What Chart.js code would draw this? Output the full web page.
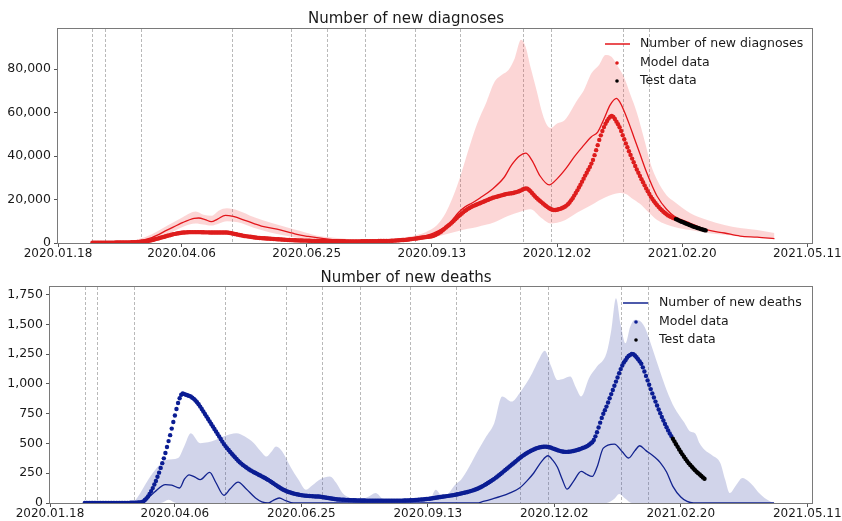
<!DOCTYPE html>
<html>
<head>
<meta charset="utf-8">
<script src="https://cdn.jsdelivr.net/npm/chart.js@4.4.1/dist/chart.umd.min.js"></script>
<style>
  html, body { margin: 0; padding: 0; background: #fff; }
  #wrap { position: relative; width: 842px; height: 521px; }
  canvas { position: absolute; left: 0; }
  #diag { top: 0; }
  #death { top: 262px; }
</style>
</head>
<body>
<div id="wrap">
  <canvas id="diag" width="842" height="262"></canvas>
  <canvas id="death" width="842" height="259"></canvas>
</div>
<script>
// x is the day number counted from 2020.01.18
const dayMax = 482;
const tickDays = [0, 79, 159, 239, 319, 399, 479];
const tickLabels = ["2020.01.18", "2020.04.06", "2020.06.25", "2020.09.13", "2020.12.02", "2021.02.20", "2021.05.11"];
const eventDays = [22, 30, 53, 111, 149, 172, 196, 228, 257, 297, 315, 361, 378];

// ---- new diagnoses ----
const diagYTicks = [0, 20000, 40000, 60000, 80000];
const diagModelStart = 22;
const diagModel = [
  100,100,100,100,100,100,100,100,
  100,100,100,150,150,150,150,200,200,200,
  200,200,250,250,300,300,300,350,350,400,
  400,450,500,550,600,700,800,900,1000,1150,
  1300,1500,1700,1900,2100,2300,2500,2700,2900,3100,
  3300,3500,3700,3900,4100,4200,4400,4500,4600,4700,
  4800,4850,4900,4950,5000,5000,5000,5000,5000,5000,
  5000,5000,4950,4950,4900,4900,4900,4850,4850,4800,
  4800,4800,4800,4800,4800,4800,4800,4800,4800,4700,
  4600,4450,4300,4150,4000,3850,3700,3550,3400,3250,
  3150,3050,2950,2850,2750,2650,2550,2450,2350,2300,
  2250,2200,2150,2100,2050,2000,1950,1900,1850,1800,
  1750,1700,1650,1600,1550,1500,1450,1400,1350,1300,
  1300,1250,1250,1200,1200,1150,1150,1100,1100,1100,
  1050,1050,1000,1000,1000,950,950,950,900,900,
  900,900,850,850,850,850,800,800,800,800,
  800,800,800,800,750,750,750,750,750,750,
  750,750,750,750,800,800,800,800,800,800,
  800,850,850,850,850,900,900,900,950,950,
  950,1000,1000,1050,1050,1100,1150,1200,1250,1300,
  1350,1400,1450,1500,1600,1700,1800,1900,2000,2100,
  2200,2300,2400,2500,2600,2700,2800,2900,3000,3100,
  3300,3600,4000,4400,4800,5300,5900,6500,7100,7700,
  8300,8900,9500,10200,10900,11600,12300,12900,13500,14100,
  14700,15200,15700,16100,16500,16900,17200,17500,17800,18100,
  18400,18700,19000,19300,19600,19900,20200,20500,20800,21000,
  21200,21400,21600,21800,22000,22200,22400,22600,22700,22800,
  22900,23000,23200,23400,23600,23900,24200,24600,24900,25100,
  25000,24500,23800,23000,22200,21400,20700,20000,19400,18800,
  18200,17600,17000,16500,16000,15600,15300,15200,15200,15300,
  15500,15700,16000,16300,16700,17200,17800,18600,19600,20600,
  21800,23000,24200,25500,26800,28200,29600,31000,32300,33700,
  35000,36500,38200,40400,42700,45000,47400,49500,51500,53300,
  54800,56100,57200,58100,58400,58000,57000,55800,54600,53200,
  51500,49600,47700,45800,44000,42200,40500,38800,37100,35400,
  33800,32300,30800,29300,27900,26500,25100,23800,22500,21300,
  20200,19200,18300,17400,16600,15800,15100,14400,13800,13200,
  12700,12300,11900,11600,11300
];
const diagTestStart = 395;
const diagTest = [11000,10700,10300,10000,9700,9400,9100,8800,8500,8200,7900,7600,7400,7100,6900,6700,6400,6200,6000,5800];

const diagLineDays = [22,40,50,60,70,80,87,90,94,98,102,107,112,120,130,140,150,155,160,170,180,190,200,210,220,230,240,250,256,260,265,270,277,285,290,295,299,303,308,314,319,325,330,335,341,345,349,353,357,359,362,365,368,372,376,380,383,389,394,404,415,426,436,447,458];
const diagLineVals = [0,300,800,2500,6000,9500,11300,11500,10800,9800,11000,12700,12200,10300,7800,6400,4500,3600,3000,2000,1300,1000,900,1000,1500,2500,4500,9000,14000,16500,18500,20800,24400,30000,35900,40000,41300,38000,31000,26700,29500,34500,39600,44000,48900,51000,57000,63500,66500,65000,60500,55000,49000,41000,33000,26000,21500,15500,12300,9200,6000,4600,3200,2700,2000];

const diagUpperDays = [22,40,50,60,70,80,88,93,98,103,108,115,125,135,145,155,165,175,185,195,205,215,225,235,242,248,256,262,268,274,279,284,288,292,296,299,302,306,309,312,315,319,324,332,336,341,346,350,354,358,362,366,370,375,379,383,389,394,404,415,426,436,447,458];
const diagUpperVals = [0,500,1500,4000,8000,12000,14500,13000,12500,15000,16000,15000,12000,9500,7500,5500,3500,2500,1800,1500,1600,2000,3000,5000,8000,14000,28000,42000,55000,65000,74000,77500,79600,85000,93400,90000,81000,70000,61200,55000,52900,55000,56600,65800,70000,78000,82000,86500,85500,81000,76000,68000,60000,47000,36000,29000,22000,19000,13800,10600,8300,6900,6000,4600];

const diagLowerDays = [22,50,60,70,80,88,93,98,103,108,115,125,135,145,155,165,175,185,195,205,215,225,235,245,256,262,268,279,288,296,302,309,315,319,324,332,341,350,359,363,367,372,377,383,394,404,415,426,436,447,458];
const diagLowerVals = [0,200,1200,4000,7500,9000,8500,8000,9000,10000,9500,7000,5000,3500,2200,1200,800,500,400,400,600,1000,1800,3500,5500,6500,7400,9500,12500,14500,15500,11500,9000,9300,10500,14000,17500,21000,23000,22500,20500,18000,14500,10600,7400,6000,4600,3800,3200,2700,2000];

// ---- new deaths ----
const deathYTicks = [0, 250, 500, 750, 1000, 1250, 1500, 1750];
const deathModelStart = 22;
const deathModel = [
  0,0,0,0,0,0,0,0,
  0,0,0,0,0,0,0,0,0,0,
  0,0,0,0,0,1,1,1,1,1,
  1,2,2,2,3,3,4,5,7,12,
  25,38,55,75,100,125,155,185,220,255,
  295,335,375,420,470,520,570,625,680,735,
  790,840,880,910,920,915,910,905,900,895,
  885,875,862,847,830,810,790,769,748,727,
  706,685,664,643,622,601,580,559,538,516,
  495,478,461,445,429,414,399,384,370,356,
  343,331,320,310,300,291,282,274,266,259,
  252,245,238,231,224,217,210,202,194,186,
  177,168,159,150,141,132,124,116,109,103,
  97,92,88,84,80,77,74,71,68,66,
  64,62,61,60,59,58,57,56,55,55,
  54,52,50,48,46,44,42,40,38,36,
  34,32,30,29,28,27,27,26,26,25,
  24,24,23,23,22,22,22,21,21,21,
  20,20,20,20,20,20,20,20,20,20,
  20,20,20,20,20,20,20,20,20,20,
  20,20,20,20,21,21,22,22,23,23,
  24,25,26,27,28,29,30,31,33,35,
  36,38,40,42,44,46,48,50,52,54,
  56,58,60,62,64,66,68,71,74,77,
  80,83,86,89,92,96,100,104,108,113,
  118,124,130,137,144,152,160,168,176,185,
  194,203,213,223,233,244,255,266,277,288,
  299,310,321,332,343,354,365,376,386,396,
  405,414,422,430,437,444,450,456,461,465,
  468,471,473,474,473,471,468,464,459,454,
  449,444,440,436,433,431,430,430,431,432,
  434,437,440,444,448,452,457,462,467,473,
  480,490,500,510,530,560,595,635,675,715,
  750,780,810,845,880,915,950,985,1020,1055,
  1090,1125,1155,1180,1200,1220,1235,1245,1252,1250,
  1240,1225,1208,1190,1170,1140,1105,1068,1030,993,
  957,921,886,852,819,786,754,723,693,664,
  636,610,585,562
];
const deathTestStart = 394;
const deathTest = [540,517,494,472,450,429,409,389,370,352,335,319,304,290,276,263,251,239,227,215,204];

const deathLineDays = [22,55,60,66,73,77,82,85,88,92,95,101,105,110,114,119,124,130,134,138,141,145,149,154,270,274,280,285,291,297,302,306,311,315,318,321,324,327,331,336,339,343,346,350,357,362,366,370,373,377,382,386,390,394,399,403,407,458];
const deathLineVals = [0,0,20,90,154,150,126,200,237,215,196,257,170,65,120,175,120,42,10,0,20,42,20,0,0,13,35,55,85,126,190,252,350,397,360,300,200,117,180,265,245,223,300,461,495,430,378,440,481,440,391,340,260,140,50,13,0,0];

const deathUpperDays = [22,50,53,56,60,65,70,74,81,85,89,95,100,105,110,118,123,129,133,137,140,143,147,152,157,162,166,171,177,181,185,190,195,201,206,210,215,220,240,244,248,252,256,260,265,271,276,281,286,292,297,301,305,309,313,317,321,325,329,333,336,341,346,352,355,358,361,364,367,370,374,377,381,386,390,395,401,405,408,411,414,419,424,427,430,434,438,442,445,448,452,456,458];
const deathUpperVals = [0,0,10,60,150,252,330,363,378,480,587,503,510,531,560,587,560,503,440,391,430,475,430,307,200,112,150,200,223,170,84,40,28,50,84,40,10,0,20,112,60,80,150,195,300,447,560,671,895,852,923,1000,1091,1200,1280,1150,1034,1045,1062,960,895,1050,1146,1258,1450,1720,1500,1342,1480,1540,1520,1454,1300,1100,950,800,680,600,587,500,447,400,336,200,84,150,210,180,140,90,42,10,0];

const deathLowerDays = [22,70,75,80,352,357,360,364,368,458];
const deathLowerVals = [0,0,28,0,0,35,75,35,0,0];

const FONT = '"DejaVu Sans", "Liberation Sans", sans-serif';

function pairs(days, vals) {
  return days.map((d, i) => ({ x: d, y: vals[i] }));
}
function daily(start, vals) {
  return vals.map((v, i) => ({ x: start + i, y: v }));
}

const eventLines = {
  id: "eventLines",
  beforeDatasetsDraw(chart) {
    const { ctx, chartArea: a, scales: { x } } = chart;
    ctx.save();
    ctx.strokeStyle = "#b9b9b9";
    ctx.lineWidth = 1;
    ctx.setLineDash([3, 2]);
    eventDays.forEach(d => {
      const px = Math.round(x.getPixelForValue(d)) + 0.5;
      ctx.beginPath();
      ctx.moveTo(px, a.top);
      ctx.lineTo(px, a.bottom);
      ctx.stroke();
    });
    ctx.restore();
  }
};

const frame = {
  id: "frame",
  afterDraw(chart) {
    const { ctx, chartArea: a } = chart;
    ctx.save();
    ctx.strokeStyle = "#7a7a7a";
    ctx.lineWidth = 1;
    ctx.strokeRect(a.left - 0.5, a.top - 0.5, a.right - a.left + 1, a.bottom - a.top + 1);
    ctx.restore();
  }
};

const mplLegend = {
  id: "mplLegend",
  afterDatasetsDraw(chart, args, opts) {
    const { ctx, chartArea: a } = chart;
    ctx.save();
    ctx.font = "12.5px " + FONT;
    ctx.textBaseline = "middle";
    opts.items.forEach((it, i) => {
      const y = a.top + opts.rows[i];
      if (it.kind === "line") {
        ctx.strokeStyle = it.color;
        ctx.lineWidth = 1.5;
        ctx.beginPath();
        ctx.moveTo(a.right - opts.lineFrom, y);
        ctx.lineTo(a.right - opts.lineTo, y);
        ctx.stroke();
      } else {
        ctx.fillStyle = it.color;
        ctx.beginPath();
        ctx.arc(a.right - opts.dotX, y, 1.8, 0, Math.PI * 2);
        ctx.fill();
      }
      ctx.fillStyle = "#1a1a1a";
      ctx.fillText(it.text, a.right - opts.textX, y);
    });
    ctx.restore();
  }
};

function makeChart(id, c) {
  return new Chart(document.getElementById(id), {
    type: "line",
    data: {
      datasets: [
        { label: "upper", data: pairs(c.upperDays, c.upperVals), fill: "+1", backgroundColor: c.band,
          borderWidth: 0, pointRadius: 0, cubicInterpolationMode: "monotone", order: 5 },
        { label: "lower", data: pairs(c.lowerDays, c.lowerVals), fill: false,
          borderWidth: 0, pointRadius: 0, cubicInterpolationMode: "monotone", order: 4 },
        { label: c.lineLabel, data: pairs(c.lineDays, c.lineVals), borderColor: c.lineColor, borderWidth: 1.3,
          pointRadius: 0, fill: false, cubicInterpolationMode: "monotone", order: 3 },
        { label: "Model data", data: daily(c.modelStart, c.model), showLine: false, pointRadius: 2.2,
          pointBorderWidth: 0, pointBackgroundColor: c.dotColor, order: 2 },
        { label: "Test data", data: daily(c.testStart, c.test), showLine: false, pointRadius: 2.2,
          pointBorderWidth: 0, pointBackgroundColor: "#000000", order: 1 }
      ]
    },
    options: {
      responsive: false,
      animation: false,
      events: [],
      locale: "en-US",
      layout: { padding: { left: 0, right: 30, top: 0, bottom: 0 } },
      plugins: {
        legend: { display: false },
        tooltip: { enabled: false },
        title: { display: true, text: c.title, color: "#1a1a1a",
          font: { family: FONT, size: 15, weight: "normal" }, padding: c.titlePad },
        mplLegend: c.legend
      },
      scales: {
        x: {
          type: "linear", min: 0, max: dayMax,
          afterBuildTicks: s => { s.ticks = tickDays.map(v => ({ value: v })); },
          ticks: { autoSkip: false, maxRotation: 0, padding: 0, color: "#1a1a1a",
            font: { family: FONT, size: 12 },
            callback: v => tickLabels[tickDays.indexOf(v)] },
          grid: { display: true, drawOnChartArea: false, tickLength: 4, color: "#555" },
          border: { display: false },
          afterFit: s => { s.height = c.xAxisH; s.paddingLeft = 0; s.paddingRight = 0; }
        },
        y: {
          min: 0, max: c.yMax,
          afterBuildTicks: s => { s.ticks = c.yTicks.map(v => ({ value: v })); },
          ticks: { padding: 3, color: "#1a1a1a", font: { family: FONT, size: 12.5 } },
          grid: { display: true, drawOnChartArea: false, tickLength: 4, color: "#555" },
          border: { display: false },
          afterFit: s => { s.width = c.yAxisW; s.paddingTop = 0; s.paddingBottom = 0; }
        }
      }
    },
    plugins: [eventLines, frame, mplLegend]
  });
}

makeChart("diag", {
  title: "Number of new diagnoses",
  titlePad: { top: 10, bottom: 1 },
  lineLabel: "Number of new diagnoses",
  lineColor: "#e3161b", dotColor: "#de1d1d", band: "rgba(240, 70, 70, 0.22)",
  upperDays: diagUpperDays, upperVals: diagUpperVals,
  lowerDays: diagLowerDays, lowerVals: diagLowerVals,
  lineDays: diagLineDays, lineVals: diagLineVals,
  modelStart: diagModelStart, model: diagModel,
  testStart: diagTestStart, test: diagTest,
  yMax: 98400, yTicks: diagYTicks, yAxisW: 58, xAxisH: 19,
  legend: {
    items: [
      { kind: "line", color: "#e3161b", text: "Number of new diagnoses" },
      { kind: "dot", color: "#de1d1d", text: "Model data" },
      { kind: "dot", color: "#000000", text: "Test data" }
    ],
    rows: [15, 34, 52], lineFrom: 207, lineTo: 182, dotX: 195, textX: 172
  }
});

makeChart("death", {
  title: "Number of new deaths",
  titlePad: { top: 7, bottom: 0 },
  lineLabel: "Number of new deaths",
  lineColor: "#12238f", dotColor: "#0b1d93", band: "rgba(70, 85, 170, 0.25)",
  upperDays: deathUpperDays, upperVals: deathUpperVals,
  lowerDays: deathLowerDays, lowerVals: deathLowerVals,
  lineDays: deathLineDays, lineVals: deathLineVals,
  modelStart: deathModelStart, model: deathModel,
  testStart: deathTestStart, test: deathTest,
  yMax: 1815, yTicks: deathYTicks, yAxisW: 50, xAxisH: 18,
  legend: {
    items: [
      { kind: "line", color: "#12238f", text: "Number of new deaths" },
      { kind: "dot", color: "#0b1d93", text: "Model data" },
      { kind: "dot", color: "#000000", text: "Test data" }
    ],
    rows: [16, 35, 53], lineFrom: 189, lineTo: 164, dotX: 176, textX: 153
  }
});
</script>
</body>
</html>
